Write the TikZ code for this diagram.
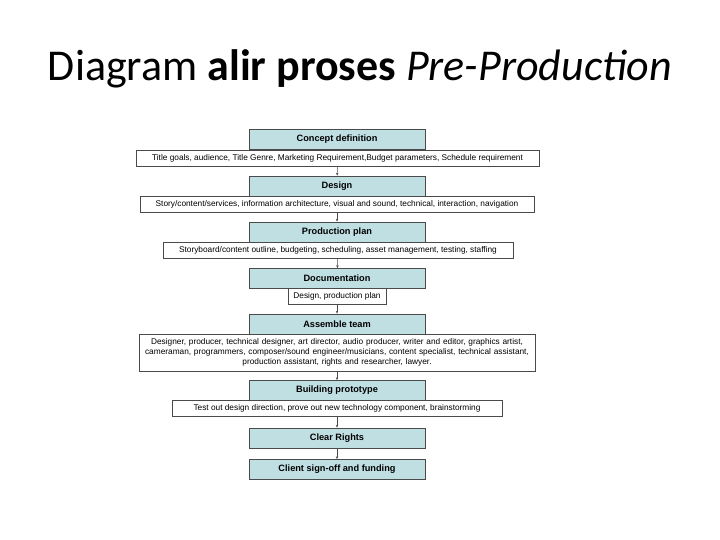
\documentclass[tikz,border=0pt]{standalone}
\usepackage{fontspec}
\setmainfont{Carlito}
\newfontfamily\chartfont{Liberation Sans}
\usepackage{xcolor}
\usetikzlibrary{arrows.meta, positioning}
\definecolor{StageTeal}{HTML}{C0DFE3}
\definecolor{FrameGray}{HTML}{4A4A4A}

\begin{document}
\begin{tikzpicture}[
    x=1pt, y=-1pt,
    stage/.style={minimum width=176pt, minimum height=20pt, draw=FrameGray, fill=StageTeal, line width=0.6pt, inner sep=0pt, font=\chartfont\fontsize{9.2}{10}\selectfont\bfseries, anchor=center},
    info/.style={minimum height=16pt, draw=FrameGray, fill=white, line width=0.6pt, inner sep=0pt, font=\chartfont\fontsize{8.3}{10}\selectfont, anchor=center},
    flow/.style={-{Stealth[length=3pt, width=2.4pt]}, line width=0.5pt, FrameGray}
]
\useasboundingbox (0,0) rectangle (720,540);

% Title
\node (title) at (360,69) {\fontsize{44}{52}\selectfont Diagram \textbf{alir proses} \textit{Pre-Production}};

% Stages
\node[stage] (concept) at (337, 139.5) {Concept definition};
\node[stage] (design) at (337, 186) {Design};
\node[stage] (plan) at (337, 232) {Production plan};
\node[stage] (docu) at (337, 278.5) {Documentation};
\node[stage] (team) at (337, 324) {Assemble team};
\node[stage] (proto) at (337, 390.5) {Building prototype};
\node[stage] (rights) at (337, 438) {Clear Rights};
\node[stage] (signoff) at (337, 469.5) {Client sign-off and funding};

% Stage contents
\node[info, minimum width=403pt] (conceptinfo) at (337.5, 158) {Title goals, audience, Title Genre, Marketing Requirement,Budget parameters, Schedule requirement};
\node[info, minimum width=394pt] (designinfo) at (337, 204.5) {Story/content/services, information architecture, visual and sound, technical, interaction, navigation};
\node[info, minimum width=350pt] (planinfo) at (338, 250) {Storyboard/content outline, budgeting, scheduling, asset management, testing, staffing};
\node[info, minimum width=98pt] (docuinfo) at (337, 296.5) {Design, production plan};
\node[info, minimum width=396pt, minimum height=37pt, text width=394pt, align=center] (teaminfo) at (337, 352.5) {Designer, producer, technical designer, art director, audio producer, writer and editor, graphics artist,\\ cameraman, programmers, composer/sound engineer/musicians, content specialist, technical assistant,\\ production assistant, rights and researcher, lawyer.};
\node[info, minimum width=330pt] (protoinfo) at (337, 408) {Test out design direction, prove out new technology component, brainstorming};

% Flow
\draw[flow] (conceptinfo) -- (design);
\draw[flow] (designinfo) -- (plan);
\draw[flow] (planinfo) -- (docu);
\draw[flow] (docuinfo) -- (team);
\draw[flow] (teaminfo) -- (proto);
\draw[flow] (protoinfo) -- (rights);
\draw[flow] (rights) -- (signoff);
\end{tikzpicture}
\end{document}
